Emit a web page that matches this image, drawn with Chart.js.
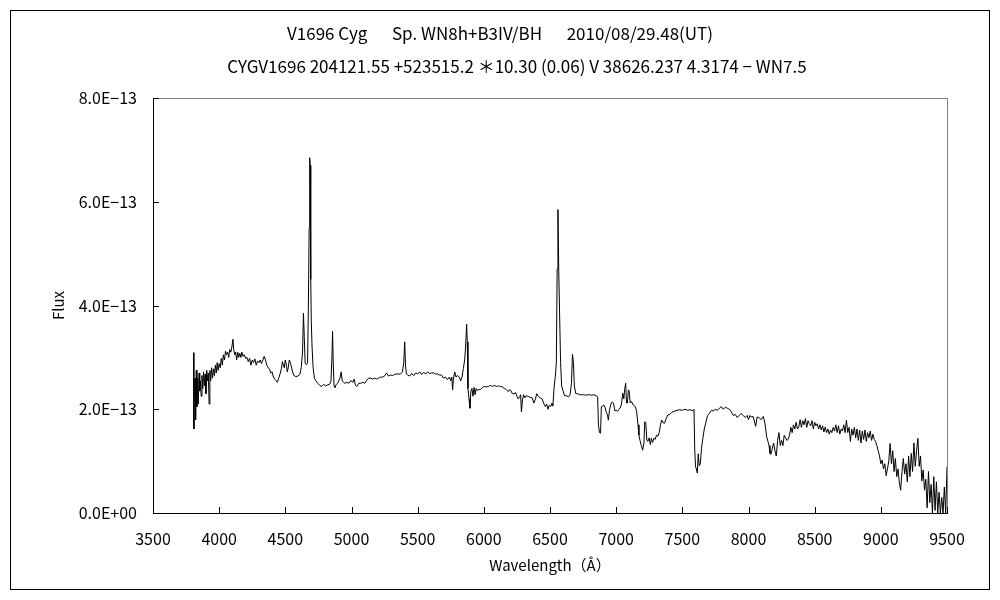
<!DOCTYPE html>
<html>
<head>
<meta charset="utf-8">
<script src="https://cdn.jsdelivr.net/npm/chart.js@4.4.1/dist/chart.umd.min.js"></script>
<style>
  body { margin: 0; background: #fff; }
</style>
</head>
<body>
<canvas id="myChart" width="1000" height="600"></canvas>
<script>
// title lines
var titleLines = [
  "V1696 Cyg \u3000 Sp. WN8h+B3IV/BH \u3000 2010/08/29.48(UT)",
  "CYGV1696 204121.55 +523515.2 \uFF0A10.30 (0.06) V 38626.237 4.3174 \u2212 WN7.5"
];

// wavelength (A)
var wavelength = [
  3806, 3809, 3813, 3818, 3822, 3827, 3832, 3837, 3842, 3848, 3853, 3858, 3864, 3870, 3876, 3882, 3888, 3894, 3900, 3906,
  3912, 3918, 3924, 3930, 3936, 3943, 3950, 3957, 3964, 3971, 3978, 3985, 3992, 4000, 4008, 4016, 4024, 4032, 4040, 4048,
  4056, 4064, 4072, 4080, 4088, 4096, 4104, 4110, 4118, 4125, 4132, 4140, 4148, 4156, 4164, 4172, 4180, 4190, 4200, 4210,
  4220, 4230, 4240, 4250, 4260, 4270, 4280, 4290, 4300, 4310, 4320, 4330, 4340, 4350, 4360, 4370, 4380, 4390, 4400, 4410,
  4420, 4430, 4440, 4450, 4460, 4470, 4478, 4485, 4492, 4500, 4508, 4515, 4522, 4530, 4540, 4555, 4565, 4580, 4595, 4610,
  4620, 4630, 4637, 4643, 4650, 4660, 4668, 4674, 4680, 4684, 4688, 4692, 4696, 4702, 4710, 4720, 4730, 4745, 4760, 4775,
  4790, 4805, 4820, 4835, 4845, 4852, 4857, 4862, 4868, 4875, 4885, 4895, 4905, 4915, 4922, 4930, 4940, 4950, 4965, 4980,
  4995, 5010, 5020, 5030, 5040, 5055, 5070, 5085, 5100, 5115, 5130, 5145, 5160, 5175, 5190, 5205, 5220, 5235, 5250, 5265,
  5280, 5295, 5310, 5325, 5340, 5355, 5370, 5385, 5395, 5402, 5408, 5415, 5425, 5440, 5455, 5470, 5485, 5500, 5515, 5530,
  5545, 5560, 5575, 5590, 5605, 5620, 5635, 5650, 5665, 5680, 5695, 5710, 5725, 5740, 5750, 5758, 5764, 5770, 5780, 5790,
  5800, 5815, 5825, 5835, 5845, 5855, 5862, 5870, 5875, 5880, 5888, 5895, 5902, 5910, 5918, 5926, 5934, 5942, 5950, 5960,
  5975, 5990, 6005, 6020, 6035, 6050, 6065, 6080, 6095, 6110, 6125, 6140, 6155, 6170, 6185, 6195, 6205, 6215, 6228, 6240,
  6250, 6260, 6270, 6278, 6284, 6292, 6300, 6310, 6320, 6335, 6350, 6365, 6378, 6390, 6400, 6412, 6425, 6440, 6455, 6465,
  6475, 6485, 6495, 6505, 6515, 6522, 6530, 6540, 6548, 6554, 6560, 6566, 6572, 6580, 6588, 6598, 6610, 6625, 6640, 6652,
  6662, 6670, 6677, 6684, 6695, 6710, 6725, 6740, 6755, 6770, 6785, 6800, 6815, 6830, 6850, 6860, 6866, 6874, 6882, 6888,
  6898, 6908, 6916, 6924, 6934, 6941, 6950, 6960, 6970, 6980, 6990, 7000, 7010, 7020, 7030, 7040, 7050, 7058, 7065, 7072,
  7078, 7085, 7092, 7098, 7106, 7115, 7130, 7145, 7155, 7165, 7172, 7180, 7190, 7200, 7210, 7216, 7224, 7232, 7240, 7250,
  7258, 7266, 7275, 7285, 7295, 7305, 7315, 7325, 7335, 7344, 7355, 7365, 7378, 7390, 7405, 7420, 7440, 7460, 7480, 7500,
  7520, 7540, 7560, 7575, 7588, 7594, 7600, 7606, 7613, 7620, 7628, 7636, 7645, 7655, 7666, 7678, 7691, 7705, 7720, 7735,
  7750, 7765, 7780, 7795, 7810, 7825, 7840, 7855, 7870, 7885, 7900, 7915, 7930, 7945, 7960, 7975, 7990, 8000, 8010, 8020,
  8035, 8054, 8065, 8080, 8095, 8112, 8125, 8137, 8147, 8155, 8162, 8170, 8180, 8190, 8200, 8210, 8220, 8230, 8240, 8250,
  8260, 8270, 8280, 8290, 8300, 8310, 8320, 8330, 8340, 8350, 8360, 8370, 8380, 8390, 8400, 8410, 8420, 8430, 8440, 8450,
  8460, 8470, 8480, 8490, 8500, 8510, 8520, 8530, 8540, 8550, 8560, 8570, 8580, 8590, 8600, 8610, 8620, 8630, 8640, 8650,
  8660, 8670, 8680, 8690, 8700, 8710, 8720, 8730, 8740, 8750, 8760, 8770, 8780, 8790, 8800, 8810, 8820, 8830, 8840, 8850,
  8860, 8870, 8880, 8890, 8900, 8910, 8920, 8930, 8940, 8950, 8960, 8970, 8980, 8990, 9000, 9010, 9020, 9030, 9040, 9050,
  9060, 9070, 9080, 9090, 9100, 9110, 9120, 9130, 9140, 9150, 9160, 9170, 9180, 9190, 9200, 9210, 9220, 9230, 9240, 9250,
  9260, 9270, 9280, 9290, 9300, 9310, 9320, 9330, 9340, 9350, 9360, 9370, 9380, 9390, 9400, 9410, 9420, 9430, 9440, 9450,
  9460, 9470, 9480, 9490, 9500
];

// flux in units of 1E-13
var flux = [
  3.09, 1.62, 2.55, 2.60, 1.80, 2.75, 2.05, 2.60, 2.10, 2.70, 2.35, 2.55, 2.25, 2.65, 2.40, 2.72, 2.45, 2.68, 2.30, 2.75,
  2.55, 2.70, 2.10, 2.75, 2.55, 2.80, 2.60, 2.78, 2.65, 2.85, 2.70, 2.90, 2.75, 2.88, 2.80, 2.98, 2.85, 3.05, 2.95, 3.12,
  3.05, 3.10, 3.00, 3.15, 3.10, 3.20, 3.35, 3.15, 3.05, 3.10, 2.95, 3.10, 3.00, 3.08, 3.00, 3.10, 3.02, 3.05, 2.98, 3.00,
  2.92, 2.98, 2.85, 2.95, 2.90, 2.97, 2.85, 2.93, 2.90, 2.95, 2.88, 2.95, 3.02, 2.95, 2.85, 2.80, 2.78, 2.70, 2.72, 2.62,
  2.58, 2.55, 2.52, 2.60, 2.68, 2.78, 2.92, 2.85, 2.80, 2.95, 2.85, 2.72, 2.80, 2.95, 2.88, 2.72, 2.65, 2.63, 2.64, 2.67,
  2.80, 3.10, 3.85, 3.40, 2.88, 2.86, 2.90, 3.95, 5.50, 6.85, 6.70, 4.50, 3.70, 3.20, 2.80, 2.60, 2.55, 2.50, 2.46, 2.44,
  2.48, 2.45, 2.47, 2.48, 2.55, 3.00, 3.50, 2.90, 2.45, 2.42, 2.48, 2.50, 2.55, 2.62, 2.72, 2.55, 2.52, 2.50, 2.52, 2.50,
  2.55, 2.52, 2.58, 2.46, 2.44, 2.50, 2.50, 2.52, 2.50, 2.56, 2.60, 2.60, 2.58, 2.60, 2.58, 2.60, 2.62, 2.62, 2.64, 2.70,
  2.64, 2.66, 2.65, 2.67, 2.68, 2.68, 2.68, 2.72, 2.90, 3.30, 2.85, 2.68, 2.66, 2.64, 2.69, 2.65, 2.70, 2.68, 2.72, 2.67,
  2.71, 2.68, 2.72, 2.69, 2.70, 2.70, 2.68, 2.68, 2.66, 2.66, 2.60, 2.62, 2.57, 2.62, 2.55, 2.62, 2.37, 2.58, 2.72, 2.62,
  2.65, 2.62, 2.55, 2.62, 2.78, 2.95, 3.20, 3.64, 3.30, 2.40, 2.20, 2.02, 2.35, 2.40, 2.25, 2.42, 2.28, 2.40, 2.36, 2.38,
  2.38, 2.42, 2.44, 2.43, 2.44, 2.46, 2.44, 2.46, 2.44, 2.45, 2.44, 2.43, 2.40, 2.38, 2.34, 2.38, 2.36, 2.30, 2.30, 2.32,
  2.25, 2.20, 2.24, 2.28, 1.95, 2.18, 2.28, 2.22, 2.26, 2.25, 2.23, 2.22, 2.12, 2.20, 2.30, 2.25, 2.22, 2.20, 2.10, 2.05,
  2.10, 2.00, 2.08, 2.05, 2.12, 2.06, 2.40, 2.63, 2.90, 4.70, 5.85, 4.68, 3.91, 2.90, 2.45, 2.36, 2.26, 2.26, 2.24, 2.28,
  2.50, 3.06, 2.90, 2.45, 2.30, 2.30, 2.28, 2.28, 2.28, 2.27, 2.28, 2.28, 2.27, 2.28, 2.26, 2.24, 1.70, 1.55, 1.54, 2.05,
  2.06, 2.08, 2.04, 1.95, 1.90, 1.79, 1.99, 2.10, 2.14, 2.12, 1.97, 1.98, 1.96, 2.00, 2.02, 2.10, 2.31, 2.20, 2.40, 2.50,
  2.12, 2.12, 2.37, 2.36, 2.12, 2.15, 2.08, 2.05, 1.95, 1.70, 1.50, 1.40, 1.30, 1.21, 1.35, 1.76, 1.74, 1.40, 1.38, 1.45,
  1.32, 1.44, 1.36, 1.44, 1.42, 1.50, 1.48, 1.55, 1.70, 1.79, 1.74, 1.73, 1.82, 1.89, 1.90, 1.94, 1.96, 1.98, 1.99, 1.98,
  2.00, 1.98, 1.99, 1.97, 2.00, 1.20, 0.89, 0.85, 0.77, 1.14, 0.91, 0.95, 1.25, 1.44, 1.62, 1.75, 1.88, 1.92, 1.98, 1.97,
  2.00, 1.98, 2.02, 2.05, 2.00, 2.04, 2.02, 2.00, 1.95, 1.88, 1.90, 1.84, 1.88, 1.92, 1.88, 1.84, 1.88, 1.80, 1.88, 1.85,
  1.86, 1.67, 1.85, 1.84, 1.80, 1.86, 1.72, 1.47, 1.38, 1.30, 1.15, 1.13, 1.25, 1.35, 1.20, 1.10, 1.40, 1.55, 1.30, 1.40,
  1.30, 1.50, 1.45, 1.40, 1.42, 1.50, 1.65, 1.55, 1.70, 1.62, 1.75, 1.62, 1.66, 1.80, 1.65, 1.78, 1.70, 1.82, 1.65, 1.78,
  1.72, 1.68, 1.78, 1.62, 1.75, 1.68, 1.72, 1.62, 1.70, 1.60, 1.68, 1.56, 1.66, 1.55, 1.62, 1.52, 1.60, 1.55, 1.65, 1.58,
  1.70, 1.55, 1.68, 1.52, 1.62, 1.58, 1.70, 1.55, 1.79, 1.55, 1.65, 1.38, 1.62, 1.50, 1.65, 1.45, 1.62, 1.40, 1.60, 1.35,
  1.58, 1.42, 1.60, 1.38, 1.55, 1.45, 1.58, 1.40, 1.52, 1.42, 1.38, 1.30, 1.20, 1.10, 0.95, 1.02, 0.85, 0.95, 0.72, 0.85,
  1.00, 1.34, 0.95, 1.20, 0.80, 1.05, 0.70, 0.85, 0.58, 0.44, 0.80, 1.05, 0.75, 0.95, 0.60, 1.10, 0.70, 1.15, 0.80, 1.35,
  0.90, 1.20, 1.44, 0.90, 1.10, 0.62, 0.83, 0.44, 0.65, 0.10, 0.80, 0.20, 0.55, 0.00, 0.70, 0.05, 0.60, 0.00, 0.40, 0.00,
  0.30, 0.00, 0.50, 0.00, 0.89
];

var xTicks = { min: 3500, max: 9500, step: 500 };
var yTicks = { min: 0, max: 8, step: 2 };

var points = wavelength.map(function (w, i) {
  return { x: w, y: flux[i] };
});

var FONT = '"Noto Sans CJK JP", "Liberation Sans", sans-serif';

// frame, title and inward tick marks
var framePlugin = {
  id: "frame",
  beforeDraw: function (chart) {
    var c = chart.ctx;
    var a = chart.chartArea;
    c.save();
    c.fillStyle = "#fff";
    c.fillRect(0, 0, chart.width, chart.height);
    c.strokeStyle = "#000";
    c.lineWidth = 1;
    c.strokeRect(10.5, 10.5, 979, 579);
    c.strokeStyle = "#808080";
    c.strokeRect(a.left + 0.5, a.top + 0.5, a.right - a.left, a.bottom - a.top);
    c.fillStyle = "#000";
    c.font = "17px " + FONT;
    c.textAlign = "center";
    c.textBaseline = "middle";
    c.fillText(titleLines[0], 500, 34);
    c.fillText(titleLines[1], 517, 67);
    c.restore();
  },
  afterDraw: function (chart) {
    var c = chart.ctx;
    var a = chart.chartArea;
    var xs = chart.scales.x;
    var ys = chart.scales.y;
    c.save();
    c.strokeStyle = "#000";
    c.lineWidth = 1;
    c.beginPath();
    xs.ticks.forEach(function (t) {
      var px = Math.round(xs.getPixelForValue(t.value)) + 0.5;
      c.moveTo(px, a.bottom);
      c.lineTo(px, a.bottom - 6);
    });
    ys.ticks.forEach(function (t) {
      var py = Math.round(ys.getPixelForValue(t.value)) + 0.5;
      c.moveTo(a.left, py);
      c.lineTo(a.left + 6, py);
    });
    c.stroke();
    c.restore();
  },
};

var ctx = document.getElementById("myChart").getContext("2d");
var myChart = new Chart(ctx, {
  type: "line",
  data: {
    datasets: [
      {
        label: "Flux",
        data: points,
        borderColor: "#000",
        borderWidth: 1,
        pointRadius: 0,
        tension: 0,
        fill: false,
      },
    ],
  },
  options: {
    responsive: false,
    animation: false,
    devicePixelRatio: 1,
    layout: { padding: { top: 98, right: 53, left: 0, bottom: 0 } },
    plugins: {
      legend: { display: false },
      tooltip: { enabled: false },
    },
    scales: {
      x: {
        type: "linear",
        min: xTicks.min,
        max: xTicks.max,
        afterFit: function (s) { s.height = 87; },
        grid: { display: false },
        border: { display: true, color: "#000", width: 1 },
        ticks: {
          stepSize: xTicks.step,
          autoSkip: false,
          maxRotation: 0,
          padding: 8,
          color: "#000",
          font: { family: FONT, size: 16 },
          callback: function (v) { return String(v); },
        },
        title: {
          display: true,
          text: "Wavelength\uFF08\u00C5\uFF09",
          color: "#000",
          font: { family: FONT, size: 15 },
          padding: { top: 0, bottom: 26 },
        },
      },
      y: {
        min: yTicks.min,
        max: yTicks.max,
        afterFit: function (s) { s.width = 153; },
        grid: { display: false },
        border: { display: true, color: "#000", width: 1 },
        ticks: {
          stepSize: yTicks.step,
          padding: 8,
          color: "#000",
          font: { family: FONT, size: 16 },
          callback: function (v) {
            return v === 0 ? "0.0E+00" : v.toFixed(1) + "E\u221213";
          },
        },
        title: {
          display: true,
          text: "Flux",
          color: "#000",
          font: { family: FONT, size: 15 },
          padding: { top: 49, bottom: 0 },
        },
      },
    },
  },
  plugins: [framePlugin],
});
</script>
</body>
</html>
